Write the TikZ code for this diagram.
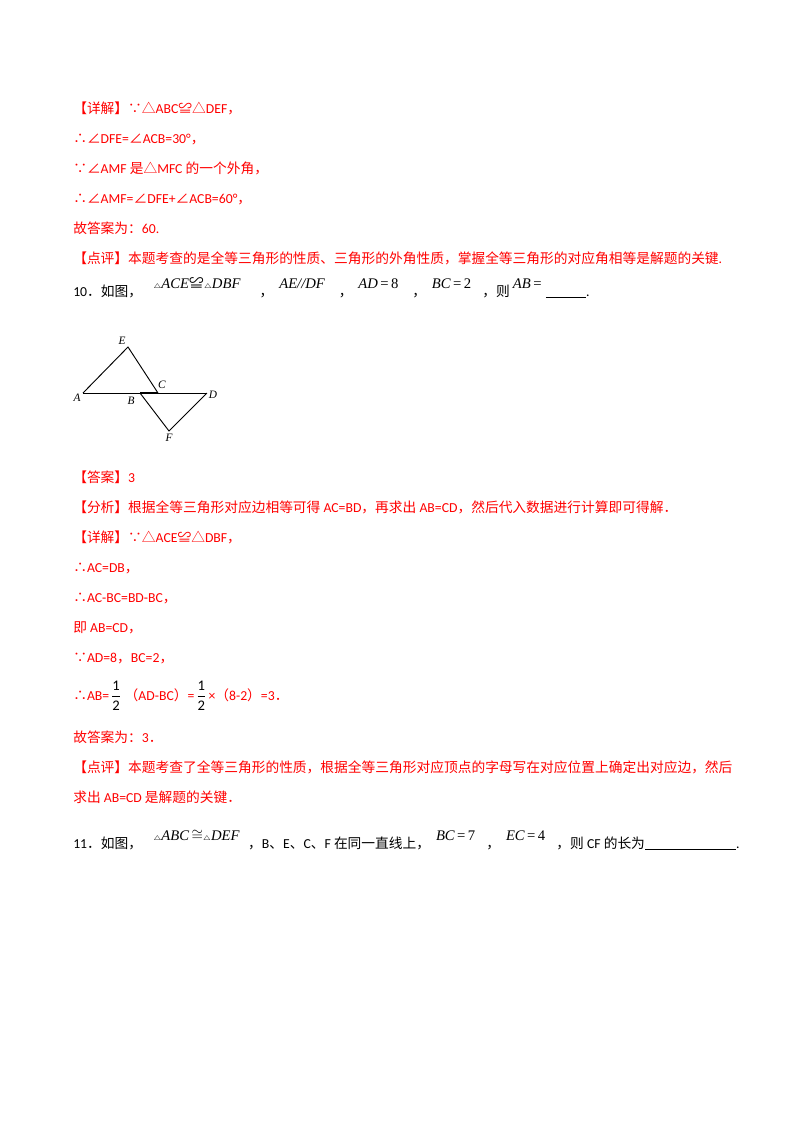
\documentclass[tikz,border=0pt]{standalone}
\usepackage{fontspec}
\setmainfont{Carlito}
\newfontfamily\cjk{Noto Sans CJK SC}
\newfontfamily\mth{Liberation Serif}
\begin{document}
\begin{tikzpicture}[x=0.75pt,y=-0.75pt,
  tx/.style={anchor=base west,inner sep=0pt,font=\fontsize{10.3}{12}\selectfont},
  rd/.style={tx,text={rgb,255:red,255;green,0;blue,0}},
  mt/.style={anchor=base west,inner sep=0pt,font=\fontsize{11}{12}\mth\itshape},
  lb/.style={inner sep=0pt,font=\fontsize{8.5}{10}\mth\itshape},
  fr/.style={inner sep=0pt,font=\fontsize{11}{12}\mth},
  seg/.style={line width=0.7pt}]
\useasboundingbox (0,0) rectangle (800,1132);
\node[rd] (l1) at (73,113) {{\cjk 【详解】∵△}ABC{\cjk ≌△}DEF{\cjk ，}};
\node[rd] (l2) at (73,143) {{\cjk ∴∠}DFE={\cjk ∠}ACB=30°{\cjk ，}};
\node[rd] (l3) at (73,173) {{\cjk ∵∠}AMF {\cjk 是△}MFC {\cjk 的一个外角，}};
\node[rd] (l4) at (73,203) {{\cjk ∴∠}AMF={\cjk ∠}DFE+{\cjk ∠}ACB=60°{\cjk ，}};
\node[rd] (l5) at (73,233) {{\cjk 故答案为：}60.};
\node[rd] (l6) at (73,263) {{\cjk 【点评】本题考查的是全等三角形的性质、三角形的外角性质，掌握全等三角形的对应角相等是解题的关键}.};
% line 10
\node[tx] (q10) at (73,296) {10{\cjk ．如图，}};
\node[mt] (m1) at ([xshift=8pt,yshift=6pt]q10.base east) {{\tiny$\triangle$}ACE{\cjk\upshape ≌}{\tiny$\triangle$}DBF};
\node[tx] (c1) at ([xshift=14pt,yshift=-6pt]m1.base east) {{\cjk ，}};
\node[mt] (m2) at ([xshift=4pt,yshift=6pt]c1.base east) {AE//DF};
\node[tx] (c2) at ([xshift=10pt,yshift=-6pt]m2.base east) {{\cjk ，}};
\node[mt] (m3) at ([xshift=4pt,yshift=6pt]c2.base east) {AD{\upshape\,=\,8}};
\node[tx] (c3) at ([xshift=10pt,yshift=-6pt]m3.base east) {{\cjk ，}};
\node[mt] (m4) at ([xshift=4pt,yshift=6pt]c3.base east) {BC{\upshape\,=\,2}};
\node[tx] (c4) at ([xshift=8pt,yshift=-6pt]m4.base east) {{\cjk ，则}};
\node[mt] (m5) at ([xshift=2pt,yshift=6pt]c4.base east) {AB{\upshape\,=}};
\coordinate (u1) at ([xshift=3pt,yshift=-7pt]m5.base east);
\coordinate (u2) at ([xshift=30pt]u1);
\draw[line width=0.6pt] (u1) -- (u2);
\node[tx] (p1) at ([yshift=1pt]u2) {.};
% figure
\coordinate (A) at (83,393); \coordinate (E) at (128,347); \coordinate (C) at (158,393);
\coordinate (B) at (140,393); \coordinate (D) at (207,393); \coordinate (F) at (169,431);
\draw[seg] (A) -- (E) -- (C);
\draw[seg] (A) -- (D);
\draw[line width=1.2pt] (B) -- (C);
\draw[seg] (B) -- (F) -- (D);
\node[lb] (lA) at (77,398) {A};
\node[lb] (lE) at (122,341) {E};
\node[lb] (lC) at (162,385) {C};
\node[lb] (lB) at (131,401) {B};
\node[lb] (lD) at (213,395) {D};
\node[lb] (lF) at (169,438) {F};
% answers
\node[rd] (a1) at (73,482) {{\cjk 【答案】}3};
\node[rd] (a2) at (73,512) {{\cjk 【分析】根据全等三角形对应边相等可得} AC=BD{\cjk ，再求出} AB=CD{\cjk ，然后代入数据进行计算即可得解．}};
\node[rd] (a3) at (73,542) {{\cjk 【详解】∵△}ACE{\cjk ≌△}DBF{\cjk ，}};
\node[rd] (a4) at (73,572) {{\cjk ∴}AC=DB{\cjk ，}};
\node[rd] (a5) at (73,602) {{\cjk ∴}AC-BC=BD-BC{\cjk ，}};
\node[rd] (a6) at (73,632) {{\cjk 即} AB=CD{\cjk ，}};
\node[rd] (a7) at (73,662) {{\cjk ∵}AD=8{\cjk ，}BC=2{\cjk ，}};
\node[rd] (a8) at (73,700) {{\cjk ∴}AB=};
\node[fr] (f1) at ([xshift=5pt,yshift=3.5pt]a8.base east) {$\displaystyle\frac{\mathrm{1}}{\mathrm{2}}$};
\node[rd] (a9) at ([xshift=2pt]a8.base east -| f1.east) {{\cjk （}AD-BC{\cjk ）}=};
\node[fr] (f2) at ([xshift=5pt,yshift=3.5pt]a9.base east) {$\displaystyle\frac{\mathrm{1}}{\mathrm{2}}$};
\node[rd] (a10) at ([xshift=1pt]a9.base east -| f2.east) {×{\cjk （}8-2{\cjk ）}=3{\cjk ．}};
\node[rd] (a11) at (73,742) {{\cjk 故答案为：}3{\cjk ．}};
\node[rd] (a12) at (73,772) {{\cjk 【点评】本题考查了全等三角形的性质，根据全等三角形对应顶点的字母写在对应位置上确定出对应边，然后}};
\node[rd] (a13) at (73,802) {{\cjk 求出} AB=CD {\cjk 是解题的关键．}};
% line 11
\node[tx] (q11) at (73,848) {11{\cjk ．如图，}};
\node[mt] (n1) at ([xshift=8pt,yshift=6pt]q11.base east) {{\tiny$\triangle$}ABC{\upshape$\,\cong$}{\tiny$\triangle$}DEF};
\node[tx] (d1) at ([xshift=6pt,yshift=-6pt]n1.base east) {{\cjk ，}B{\cjk 、}E{\cjk 、}C{\cjk 、}F {\cjk 在同一直线上，}};
\node[mt] (n2) at ([xshift=4pt,yshift=6pt]d1.base east) {BC{\upshape\,=\,7}};
\node[tx] (d2) at ([xshift=8pt,yshift=-6pt]n2.base east) {{\cjk ，}};
\node[mt] (n3) at ([xshift=4pt,yshift=6pt]d2.base east) {EC{\upshape\,=\,4}};
\node[tx] (d3) at ([xshift=8pt,yshift=-6pt]n3.base east) {{\cjk ，则} CF {\cjk 的长为}};
\coordinate (v1) at ([yshift=-1pt]d3.base east);
\coordinate (v2) at ([xshift=68pt]v1);
\draw[line width=0.6pt] (v1) -- (v2);
\node[tx] (p2) at ([yshift=1pt]v2) {.};
\end{tikzpicture}
\end{document}
